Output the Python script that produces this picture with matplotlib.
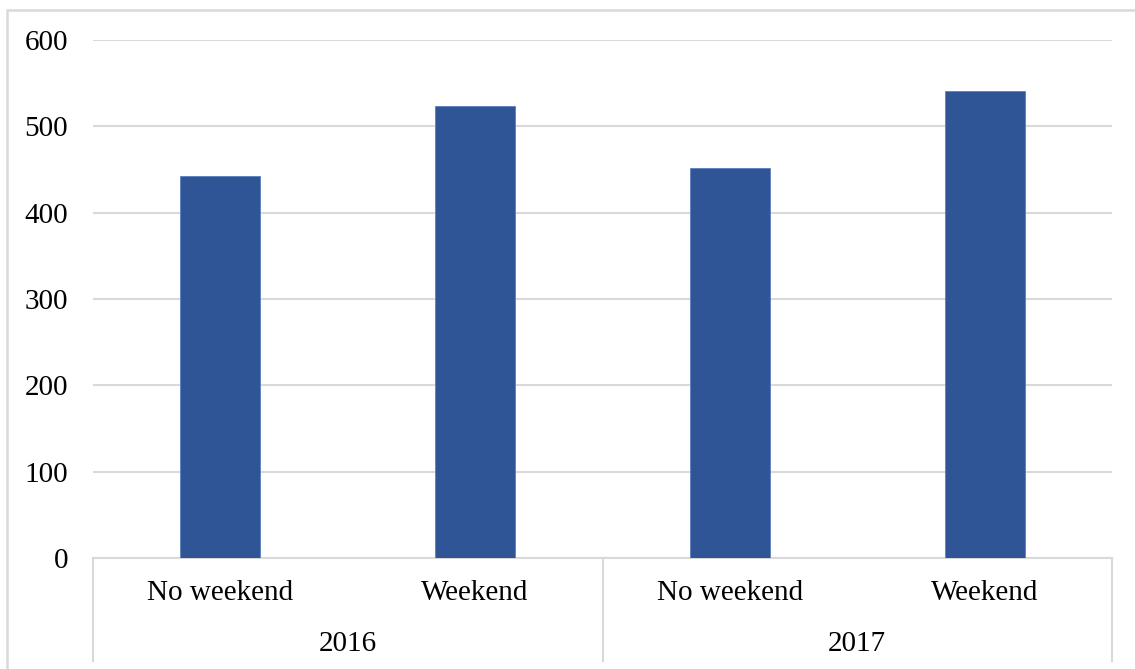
import matplotlib
matplotlib.use('Agg')
import matplotlib.pyplot as plt
import matplotlib.transforms as mtransforms
from matplotlib.patches import Rectangle

plt.rcParams['font.family'] = ['Liberation Serif', 'DejaVu Serif']

# data
years = ['2016', '2017']
groups = ['No weekend', 'Weekend']
values = [443, 524, 452, 541]
yticks = [0, 100, 200, 300, 400, 500, 600]

W, H = 1135, 669
fig = plt.figure(figsize=(W / 100, H / 100), dpi=100)

# axes in pixel terms: x 93..1112, y 40..558 (from top)
ax = fig.add_axes([93 / W, (H - 558) / H, (1112 - 93) / W, (558 - 40) / H])

grid_c = '#d9d9d9'
bar_c = '#2f5597'
fs = 21

xpos = list(range(len(values)))
ax.bar(xpos, values, width=0.315, color=bar_c, edgecolor='#5b7fbf', linewidth=0.6, zorder=3)

ax.set_xlim(-0.5, len(values) - 0.5)
ax.set_ylim(0, 600)
ax.set_yticks(yticks)
ax.set_yticklabels([str(v) for v in yticks], fontsize=fs)
ax.tick_params(axis='y', length=0, pad=18)
ax.set_xticks([])
ax.grid(axis='y', color=grid_c, linewidth=1.5, zorder=0)
for s in ['top', 'right', 'left']:
    ax.spines[s].set_visible(False)
ax.spines['bottom'].set_color(grid_c)
ax.spines['bottom'].set_linewidth(1.5)

# multi-level category axis below
trans = mtransforms.blended_transform_factory(ax.transData, fig.transFigure)
y_top = (H - 558) / H
y_bot = (H - 661) / H
for xb in [-0.5, 1.5, 3.5]:
    ax.plot([xb, xb], [y_top, y_bot], transform=trans, color=grid_c,
            linewidth=1.5, clip_on=False)

labels = [g for _ in years for g in groups]
for x, lab in zip(xpos, labels):
    ax.text(x, 1 - 593 / H, lab, transform=trans, ha='center', va='center', fontsize=fs)
for i, yr in enumerate(years):
    ax.text(2 * i + 0.5, 1 - 644 / H, yr, transform=trans, ha='center', va='center', fontsize=fs)

# outer chart border
fig.patches.append(Rectangle((7 / W, -0.02), 1.05, 1 - 10 / H + 0.02,
                             transform=fig.transFigure, fill=False,
                             edgecolor=grid_c, linewidth=1.8))

fig.savefig('out.png', dpi=100)
